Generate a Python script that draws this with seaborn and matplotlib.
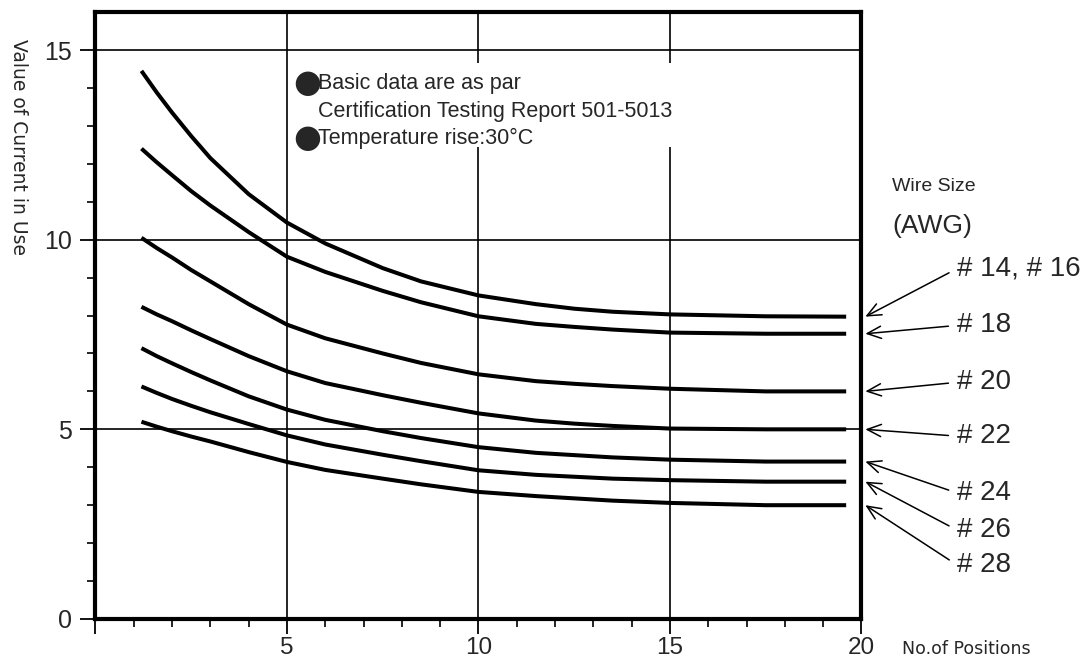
import matplotlib
matplotlib.use('Agg')
import matplotlib.pyplot as plt
import seaborn as sns
import pandas as pd
from matplotlib.ticker import MultipleLocator, FixedLocator
from matplotlib.patches import Rectangle

# Number of positions where the curves were read
positions = [1.2, 1.6, 2, 2.5, 3, 4, 5, 6, 7.5, 8.5, 10, 11.5, 12.5, 13.5, 15, 17.5, 19.6]

# Value of current in use (A) per wire size
awg_14_16 = [14.45, 13.88, 13.35, 12.73, 12.15, 11.2, 10.45, 9.9, 9.25, 8.9, 8.53, 8.3, 8.18, 8.1, 8.03, 7.98, 7.97]
awg_18 = [12.4, 12.04, 11.7, 11.28, 10.9, 10.2, 9.55, 9.15, 8.65, 8.35, 7.98, 7.78, 7.7, 7.63, 7.55, 7.52, 7.52]
awg_20 = [10.05, 9.78, 9.53, 9.2, 8.9, 8.3, 7.76, 7.4, 7.0, 6.75, 6.45, 6.27, 6.2, 6.14, 6.07, 6.0, 6.0]
awg_22 = [8.23, 8.03, 7.85, 7.61, 7.38, 6.93, 6.53, 6.22, 5.9, 5.7, 5.42, 5.23, 5.15, 5.09, 5.02, 5.0, 5.0]
awg_24 = [7.14, 6.93, 6.74, 6.51, 6.29, 5.87, 5.52, 5.25, 4.95, 4.77, 4.53, 4.38, 4.32, 4.26, 4.2, 4.15, 4.15]
awg_26 = [6.13, 5.96, 5.8, 5.62, 5.45, 5.14, 4.84, 4.6, 4.33, 4.16, 3.92, 3.8, 3.75, 3.7, 3.66, 3.62, 3.62]
awg_28 = [5.2, 5.07, 4.95, 4.81, 4.68, 4.4, 4.14, 3.93, 3.7, 3.55, 3.35, 3.24, 3.18, 3.12, 3.06, 3.0, 3.0]

wire_labels = ['# 14, # 16', '# 18', '# 20', '# 22', '# 24', '# 26', '# 28']
series = [awg_14_16, awg_18, awg_20, awg_22, awg_24, awg_26, awg_28]

# where the labels sit on the right (data y)
label_y = [9.24, 7.74, 6.24, 4.82, 3.32, 2.34, 1.42]

note_lines = ['Basic data are as par',
              'Certification Testing Report 501-5013',
              'Temperature rise:30°C']
note_bullet = [True, False, True]

rows = []
for name, vals in zip(wire_labels, series):
    for p, v in zip(positions, vals):
        rows.append({'positions': p, 'current': v, 'size': name})
df = pd.DataFrame(rows)

sns.set_style('white')
plt.rcParams['font.family'] = ['Liberation Sans', 'DejaVu Sans']

fig = plt.figure(figsize=(10.85, 6.64), dpi=100)
ax = fig.add_axes([0.088, 0.0678, 0.706, 0.914])

sns.lineplot(data=df, x='positions', y='current', hue='size',
             palette=['black'] * len(wire_labels), linewidth=2.9,
             legend=False, ax=ax)
for ln in ax.lines:
    ln.set_solid_joinstyle('round')
    ln.set_solid_capstyle('butt')

ax.set_xlim(0, 20)
ax.set_ylim(0, 16)
ax.set_xticks([0, 5, 10, 15, 20])
ax.set_xticklabels(['', '5', '10', '15', '20'])
ax.set_yticks([0, 5, 10, 15])
ax.xaxis.set_minor_locator(MultipleLocator(1))
ax.yaxis.set_minor_locator(FixedLocator(list(range(1, 15))))
ax.tick_params(which='both', bottom=True, left=True, top=False, right=False)
ax.tick_params(which='major', direction='out', length=11, width=1.3,
               color='black', labelsize=18, pad=6)
ax.tick_params(which='minor', direction='out', length=6, width=1.2,
               color='black')
ax.tick_params(axis='x', which='major', labelsize=17.5, pad=2)
ax.grid(True, which='major', color='black', linewidth=1.2)
ax.set_axisbelow(True)
for s in ax.spines.values():
    s.set_linewidth(3)
    s.set_color('black')
ax.set_xlabel('')
ax.set_ylabel('')

fig.text(0.017, 1 - 147 / 664, 'Value of Current in Use', rotation=270,
         ha='center', va='center', fontsize=13.5, family='DejaVu Sans')
fig.text(902 / 1085, 1 - 649 / 664, 'No.of Positions', ha='left', va='center',
         fontsize=12.5, family='DejaVu Sans')

# white block behind the note, hiding the grid
ax.add_patch(Rectangle((5.1, 12.45), 10.3, 2.2, facecolor='white',
                       edgecolor='none', zorder=1.5))
note_y = [14.13, 13.39, 12.66]
for txt, yy, bul in zip(note_lines, note_y, note_bullet):
    ax.text(5.8, yy, txt, ha='left', va='center', fontsize=15.5, zorder=5)
    if bul:
        ax.text(5.52, yy, '\u25cf', ha='center', va='center', fontsize=23,
                family='DejaVu Sans', zorder=5)

ax.text(20.8, 11.4, 'Wire Size', ha='left', va='center', fontsize=14,
        clip_on=False)
ax.text(20.8, 10.35, '(AWG)', ha='left', va='center', fontsize=19,
        clip_on=False)

for name, vals, ty in zip(wire_labels, series, label_y):
    ax.annotate(name, xy=(20.1, vals[-1]), xytext=(22.5, ty),
                ha='left', va='center', fontsize=20, annotation_clip=False,
                arrowprops=dict(arrowstyle='->,head_length=0.5,head_width=0.22',
                                lw=1.1, color='black', relpos=(0, 0.5),
                                shrinkA=4, shrinkB=0))

fig.savefig('out.png', dpi=100)
